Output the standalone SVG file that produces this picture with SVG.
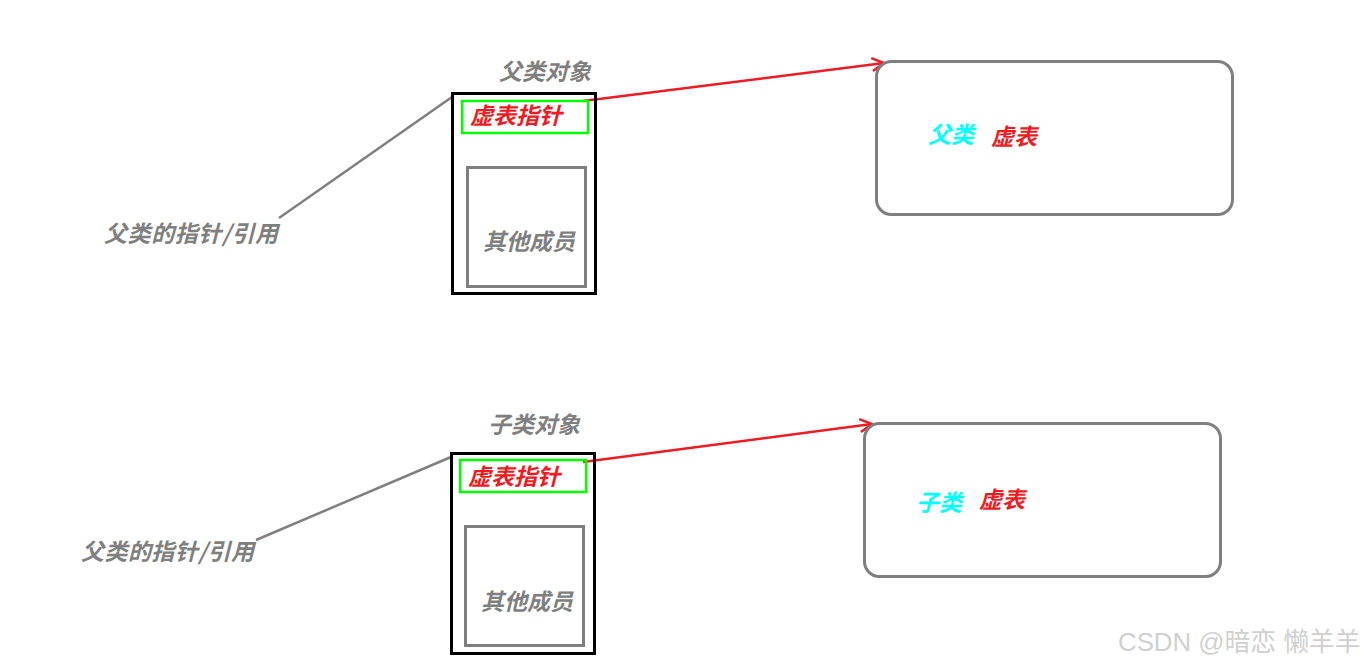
<svg xmlns="http://www.w3.org/2000/svg" width="1364" height="666" viewBox="0 0 1364 666">
<style>
.t{font-family:"Noto Sans CJK SC","Noto Sans",sans-serif;font-weight:bold;font-style:italic;font-size:23px}
.g{fill:#7f7f7f}
.r{fill:#ed1c24}
.c{fill:#00ffff}
.obj{fill:none;stroke:#000;stroke-width:3}
.vp{fill:none;stroke:#00ff00;stroke-width:2.5}
.mem{fill:none;stroke:#7f7f7f;stroke-width:3}
.vt{fill:none;stroke:#7f7f7f;stroke-width:3}
.ln{stroke:#7f7f7f;stroke-width:2.5;fill:none}
.ar{stroke:#ed1c24;stroke-width:2.5;fill:none}
.wm{font-family:"Liberation Sans","Noto Sans CJK SC",sans-serif;font-size:25.8px;fill:#d0d0d0}
</style>
<defs>
<marker id="arr" markerWidth="16" markerHeight="16" refX="13" refY="8" orient="auto" markerUnits="userSpaceOnUse">
<path d="M1,1.5 L13,8 L1,14.5" fill="none" stroke="#ed1c24" stroke-width="2.5"/>
</marker>
</defs>
<g id="connectors">
<line class="ln" x1="452" y1="97" x2="279" y2="218"/>
<line class="ar" x1="583" y1="101" x2="884" y2="63" marker-end="url(#arr)"/>
<line class="ln" x1="451" y1="457" x2="256" y2="540"/>
<line class="ar" x1="583" y1="462" x2="872" y2="424" marker-end="url(#arr)"/>
</g>
<g id="parent-ptr"><text class="t g" x="104" y="242" textLength="174">父类的指针/引用</text></g>
<g id="parent-obj">
<text class="t g" x="499" y="80">父类对象</text>
<rect class="obj" x="452.5" y="93.5" width="143" height="200"/>
<rect class="vp" x="462" y="101" width="126" height="32"/>
<text class="t r" x="470" y="124">虚表指针</text>
<rect class="mem" x="467.5" y="167.5" width="118" height="119"/>
<text class="t g" x="483" y="250">其他成员</text>
</g>
<g id="parent-vtable">
<rect class="vt" x="876.5" y="61.5" width="356" height="153" rx="15"/>
<text class="t c" x="928" y="143">父类</text>
<text class="t r" x="991" y="145">虚表</text>
</g>
<g id="child-ptr"><text class="t g" x="81" y="560" textLength="173">父类的指针/引用</text></g>
<g id="child-obj">
<text class="t g" x="488" y="433">子类对象</text>
<rect class="obj" x="451.5" y="453.5" width="143" height="200"/>
<rect class="vp" x="460" y="460" width="126" height="32"/>
<text class="t r" x="468" y="485">虚表指针</text>
<rect class="mem" x="465.5" y="526.5" width="118" height="119"/>
<text class="t g" x="481" y="610">其他成员</text>
</g>
<g id="child-vtable">
<rect class="vt" x="864.5" y="423.5" width="356" height="153" rx="15"/>
<text class="t c" x="916" y="511">子类</text>
<text class="t r" x="979" y="508">虚表</text>
</g>
<text class="wm" x="1118" y="651">CSDN @暗恋 懒羊羊</text>
</svg>
